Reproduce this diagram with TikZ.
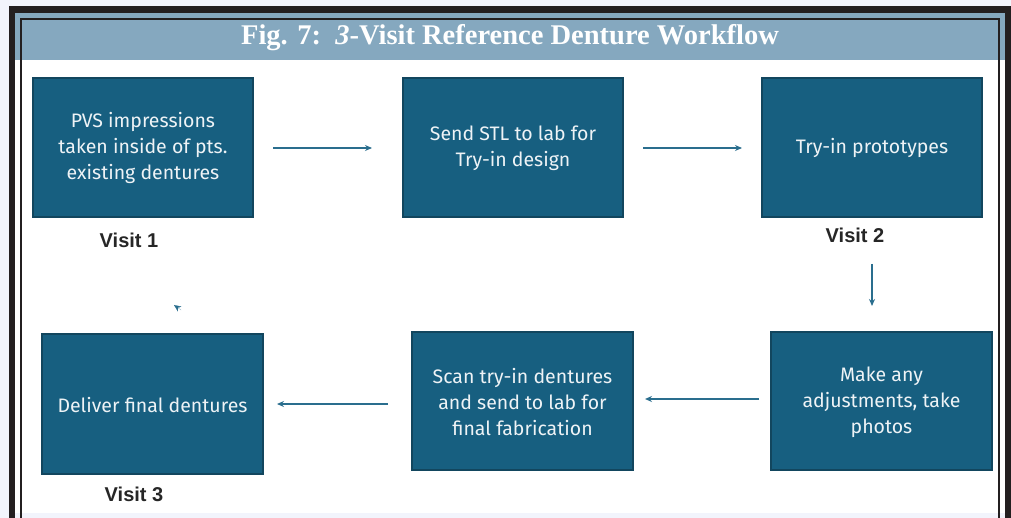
\documentclass[tikz,border=0pt]{standalone}
\usepackage{fontspec}
\setmainfont{Liberation Serif}
\newfontfamily\boxfont{Fira Sans}
\newfontfamily\visitfont{Liberation Sans}
\usetikzlibrary{arrows.meta}
\definecolor{pagebg}{HTML}{F2F4FC}
\definecolor{frame}{HTML}{231F20}
\definecolor{header}{HTML}{85A8BF}
\definecolor{boxfill}{HTML}{175F80}
\definecolor{boxedge}{HTML}{12465E}
\definecolor{arrowc}{HTML}{2A6E8E}
\definecolor{boxtext}{HTML}{EEF3F6}
\tikzset{
  stepbox/.style={draw=boxedge, line width=1.2pt, fill=boxfill, text=boxtext,
    font=\boxfont\fontsize{19.5}{26}\selectfont, align=center, inner sep=0pt},
  visitlbl/.style={font=\visitfont\bfseries\fontsize{20}{24}\selectfont, text=black!85, inner sep=0pt},
  flow/.style={draw=arrowc, line width=1.6pt, -{Stealth[length=7pt,width=6pt]}}
}
\begin{document}
\begin{tikzpicture}[x=1pt,y=-1pt]
\useasboundingbox (0,0) rectangle (1011,518);
\fill[pagebg] (0,0) rectangle (1011,518);
% frame area
\fill[white] (15,13) rectangle (1005,513);
\fill[header] (15,13) rectangle (1005,60);
\fill[pagebg] (15,513) rectangle (1005,518);
\draw[frame, line width=6pt] (12,518) -- (12,9.5) -- (1008,9.5) -- (1008,518);
\fill[frame] (9,6) rectangle (1011,13);
\draw[frame, line width=2pt] (21,518) -- (21,19) -- (999,19) -- (999,518);
% title
\node[text=white, font=\bfseries\fontsize{28.5}{32}\selectfont, inner sep=0pt] (title) at (510,38) {Fig. 7:\, \textit{3}-Visit Reference Denture Workflow};
% boxes
\path[stepbox] (33,78) rectangle (253,217);
\node[stepbox, draw=none, fill=none] (b1) at (143,147.5) {PVS impressions\\taken inside of pts.\\existing dentures};
\path[stepbox] (403,78) rectangle (623,217);
\node[stepbox, draw=none, fill=none] (b2) at (513,148) {Send STL to lab for\\Try-in design};
\path[stepbox] (762,78) rectangle (982,217);
\node[stepbox, draw=none, fill=none] (b3) at (872,148) {Try-in prototypes};
\path[stepbox] (42,334) rectangle (263,474);
\node[stepbox, draw=none, fill=none] (b6) at (152.5,405) {Deliver final dentures};
\path[stepbox] (412,332) rectangle (633,470);
\node[stepbox, draw=none, fill=none] (b5) at (522.5,402) {Scan try-in dentures\\and send to lab for\\final fabrication};
\path[stepbox] (771,332) rectangle (992,470);
\node[stepbox, draw=none, fill=none] (b4) at (881.5,402) {Make any\\adjustments, take\\photos};
% visit labels
\node[visitlbl] (v1) at (129,240) {Visit 1};
\node[visitlbl] (v2) at (855,235) {Visit 2};
\node[visitlbl] (v3) at (134,494) {Visit 3};
% connectors
\coordinate (a1s) at (273,148); \coordinate (a1e) at (372,148);
\coordinate (a2s) at (643,148); \coordinate (a2e) at (742,148);
\coordinate (a3s) at (872,264); \coordinate (a3e) at (872,306);
\coordinate (a4s) at (759,399); \coordinate (a4e) at (645,399);
\coordinate (a5s) at (388,404); \coordinate (a5e) at (277,404);
\coordinate (a6s) at (181,310); \coordinate (a6e) at (174,305);
\draw[flow] (a1s) -- (a1e);
\draw[flow] (a2s) -- (a2e);
\draw[flow] (a3s) -- (a3e);
\draw[flow] (a4s) -- (a4e);
\draw[flow] (a5s) -- (a5e);
\path[-{Stealth[length=7pt,width=6pt]}, draw=arrowc, line width=0.1pt] (a6s) -- (a6e);
\end{tikzpicture}
\end{document}
